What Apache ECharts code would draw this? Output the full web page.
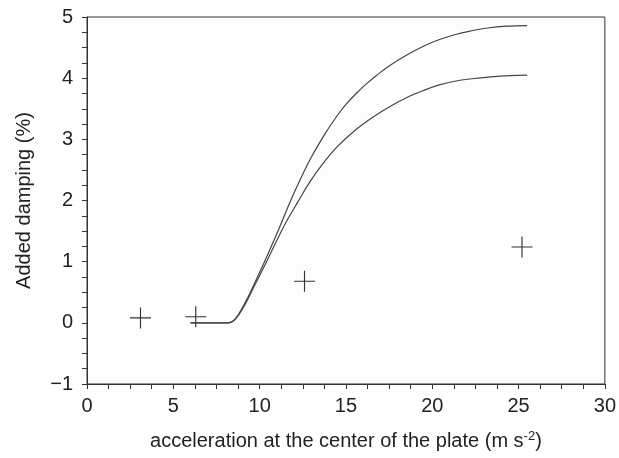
<!DOCTYPE html>
<html>
<head>
<meta charset="utf-8">
<script src="https://cdn.jsdelivr.net/npm/echarts@6/dist/echarts.min.js"></script>
<style>html,body{margin:0;padding:0;background:#fff}#c{width:619px;height:458px}</style>
</head>
<body>
<div id="c"></div>
<script>
// Upper model curve [x, y]
var upperCurve = [[6.0,0],[8.2,0],[8.6,0.07],[9.1,0.3],[9.6,0.58],[10.25,0.98],[10.8,1.33],[11.3,1.66],[11.8,2.0],[12.3,2.31],[13.0,2.71],[13.9,3.14],[14.5,3.39],[15.0,3.57],[15.6,3.75],[16.2,3.91],[16.8,4.05],[17.5,4.20],[18.4,4.36],[19.4,4.51],[20.3,4.62],[21.3,4.71],[22.2,4.77],[23.2,4.82],[24.3,4.85],[25.5,4.86]];
// Lower model curve [x, y]
var lowerCurve = [[6.0,0],[8.2,0],[8.6,0.06],[9.1,0.27],[9.6,0.55],[10.4,1.0],[11.0,1.35],[11.6,1.68],[12.2,1.97],[12.9,2.3],[13.6,2.58],[14.5,2.88],[15.5,3.14],[16.6,3.37],[17.5,3.53],[18.5,3.68],[19.5,3.80],[20.4,3.89],[21.3,3.95],[22.3,3.99],[23.4,4.02],[24.5,4.04],[25.5,4.05]];
// Measured points [x, y]
var measured = [[3.1,0.08],[6.3,0.1],[12.6,0.68],[25.2,1.24]];

var axisColor = '#333';
var chart = echarts.init(document.getElementById('c'), null, {renderer: 'canvas'});
var plus = 'path://M0,9.45H20V10.55H0Z M9.45,0H10.55V20H9.45Z';
chart.setOption({
  animation: false,
  backgroundColor: '#fff',
  grid: {left: 87, right: 7, top: 17, bottom: 74, show: true, borderColor: axisColor, borderWidth: 1, backgroundColor: '#fdfdfd'},
  xAxis: {
    type: 'value', min: 0, max: 30, interval: 5,
    name: 'acceleration at the center of the plate (m s{sup|-2})',
    nameLocation: 'middle', nameGap: 46,
    nameTextStyle: {fontFamily: 'Liberation Sans', fontSize: 20, color: '#222',
      rich: {sup: {fontFamily: 'Liberation Sans', fontSize: 13, color: '#222', verticalAlign: 'top', padding: [0,0,9,0]}}},
    axisLine: {show: true, onZero: false, lineStyle: {color: axisColor, width: 1}},
    axisTick: {show: true, inside: false, length: 5, lineStyle: {color: axisColor}},
    minorTick: {show: true, splitNumber: 4, length: 5, lineStyle: {color: axisColor}},
    splitLine: {show: false},
    axisLabel: {fontFamily: 'Liberation Sans', fontSize: 20, color: '#222', margin: 12}
  },
  yAxis: {
    type: 'value', min: -1, max: 5, interval: 1,
    name: 'Added damping (%)',
    nameLocation: 'middle', nameGap: 53,
    nameTextStyle: {fontFamily: 'Liberation Sans', fontSize: 20, color: '#222'},
    axisLine: {show: true, onZero: false, lineStyle: {color: axisColor, width: 1}},
    axisTick: {show: true, inside: false, length: 5, lineStyle: {color: axisColor}},
    minorTick: {show: true, splitNumber: 4, length: 5, lineStyle: {color: axisColor}},
    splitLine: {show: false},
    axisLabel: {fontFamily: 'Liberation Sans', fontSize: 20, color: '#222', margin: 14,
      formatter: function (v) { return String(v).replace('-', '\u2212'); }}
  },
  series: [
    {type: 'line', data: upperCurve, showSymbol: false, smooth: 0.4,
     lineStyle: {color: '#444', width: 1.2}},
    {type: 'line', data: lowerCurve, showSymbol: false, smooth: 0.4,
     lineStyle: {color: '#444', width: 1.2}},
    {type: 'scatter', data: measured, symbol: plus, symbolSize: 21,
     itemStyle: {color: '#333', opacity: 1}}
  ]
});
</script>
</body>
</html>
